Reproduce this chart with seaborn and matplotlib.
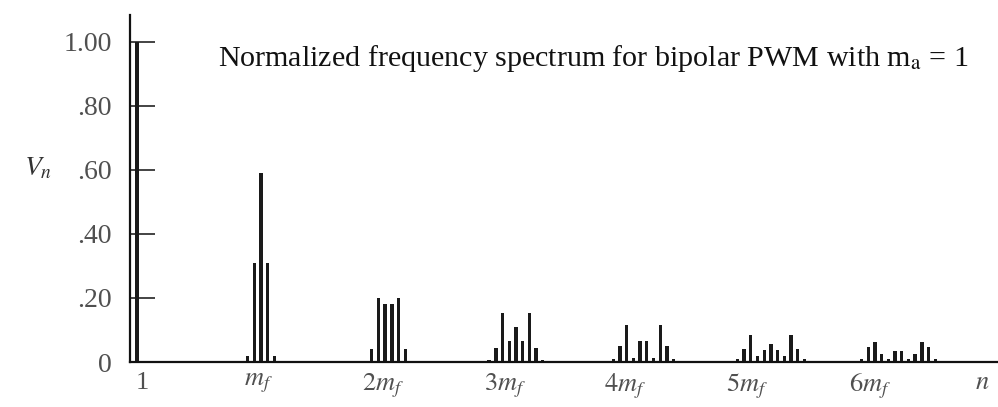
import numpy as np
import pandas as pd
import matplotlib.pyplot as plt
import seaborn as sns

# harmonic spectrum of bipolar PWM, ma = 1
mf = 38
fundamental = 1.00

offsets_1 = [-4, -2, 0, 2, 4]
heights_1 = [0.02, 0.31, 0.59, 0.31, 0.02]

offsets_2 = [-5, -3, -1, 1, 3, 5]
heights_2 = [0.04, 0.20, 0.18, 0.18, 0.20, 0.04]

offsets_3 = [-8, -6, -4, -2, 0, 2, 4, 6, 8]
heights_3 = [0.007, 0.044, 0.153, 0.065, 0.108, 0.065, 0.153, 0.044, 0.007]

offsets_4 = [-9, -7, -5, -3, -1, 1, 3, 5, 7, 9]
heights_4 = [0.009, 0.049, 0.117, 0.013, 0.065, 0.065, 0.013, 0.117, 0.049, 0.009]

offsets_5 = [-10, -8, -6, -4, -2, 0, 2, 4, 6, 8, 10]
heights_5 = [0.009, 0.040, 0.085, 0.018, 0.036, 0.057, 0.036, 0.018, 0.085, 0.040, 0.009]

offsets_6 = [-11, -9, -7, -5, -3, -1, 1, 3, 5, 7, 9, 11]
heights_6 = [0.009, 0.047, 0.061, 0.026, 0.009, 0.033, 0.033, 0.009, 0.026, 0.061, 0.047, 0.009]

yticks = [0, 0.2, 0.4, 0.6, 0.8, 1.0]
ytick_labels = ["0", ".20", ".40", ".60", ".80", "1.00"]
xtick_pos = [2.5, 37.1, 74.4, 110.8, 146.5, 182.9, 219.6, 253]
xtick_labels = ["1", "$m_f$", "$2m_f$", "$3m_f$", "$4m_f$", "$5m_f$", "$6m_f$", "$n$"]

clusters = [(offsets_1, heights_1), (offsets_2, heights_2), (offsets_3, heights_3),
            (offsets_4, heights_4), (offsets_5, heights_5), (offsets_6, heights_6)]
rows = [(1, fundamental)]
for k, (offs, hs) in enumerate(clusters, start=1):
    rows += [(k * mf + o, h) for o, h in zip(offs, hs)]
df = pd.DataFrame(rows, columns=["n", "Vn"])

sns.set_style("white")
plt.rcParams["font.family"] = ["Liberation Serif", "DejaVu Serif"]
plt.rcParams["mathtext.fontset"] = "stix"

fig = plt.figure(figsize=(9.98, 4.07), dpi=100)
ax = fig.add_axes([130 / 998, 1 - 362 / 407, 868 / 998, 347 / 407])

sns.barplot(data=df, x="n", y="Vn", native_scale=True, width=0.5,
            color="#1a1a1a", edgecolor="none", saturation=1,
            errorbar=None, ax=ax)

ax.set_xlim(-1.06, 257.7)
ax.set_ylim(0, 1.084)

sns.despine(ax=ax)
for side in ("left", "bottom"):
    ax.spines[side].set_linewidth(1.6)
    ax.spines[side].set_color("#111111")

ax.set_yticks(yticks)
ax.set_yticklabels(ytick_labels, fontsize=20, color="#505050")
ax.tick_params(axis="y", left=True, direction="in", length=18, width=1.1,
               color="#111111", pad=13)
ax.set_xticks(xtick_pos)
ax.set_xticklabels(xtick_labels, fontsize=19, color="#505050")
ax.tick_params(axis="x", length=0, pad=7)

ax.set_xlabel("")
ax.set_ylabel("$V_n$", rotation=0, fontsize=20, color="#333333")
ax.yaxis.set_label_coords(-0.106, 0.52)

ax.text((218 - 130) / 868, (362 - 58) / 347,
        "Normalized frequency spectrum for bipolar PWM with m$_\\mathrm{a}$ = 1",
        transform=ax.transAxes, fontsize=21.6, va="center", ha="left", color="#111111")

fig.savefig("out.png", dpi=100)
